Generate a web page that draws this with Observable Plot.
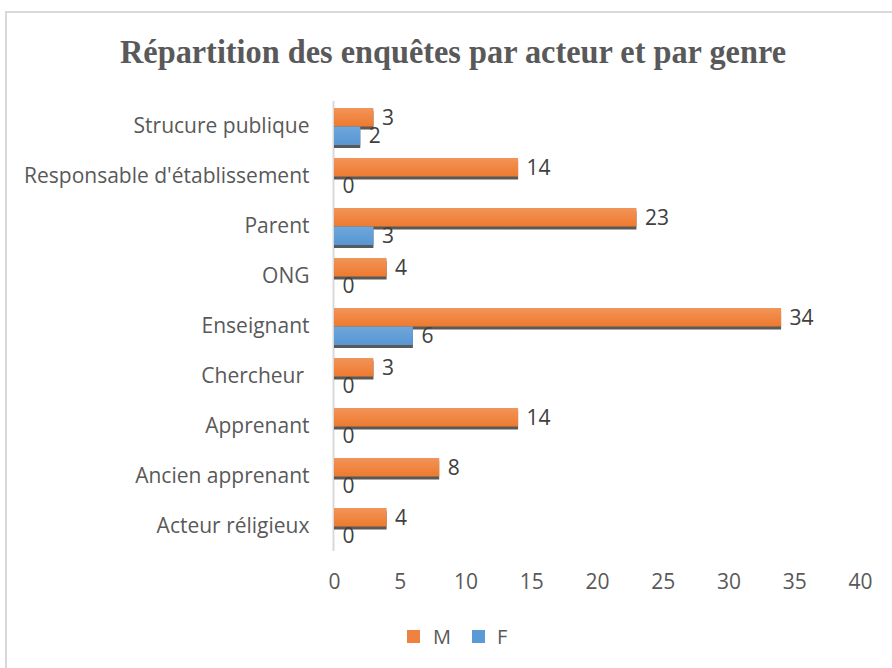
<!DOCTYPE html>
<html>
<head>
<meta charset="utf-8">
<script src="https://cdn.jsdelivr.net/npm/d3@7"></script>
<script src="https://cdn.jsdelivr.net/npm/@observablehq/plot@0.6"></script>
<style>
  html, body { margin: 0; padding: 0; background: #fff; overflow: hidden; width: 892px; height: 668px; }
  #frame { position: absolute; left: 5px; top: 11px; width: 900px; height: 700px; border: 2px solid #d9d9d9; box-sizing: border-box; }
  #title { position: absolute; left: 0; top: 33px; width: 906px; text-align: center; font-family: "Liberation Serif", "Times New Roman", serif; font-weight: bold; font-size: 34px; line-height: normal; color: #595959; white-space: nowrap; transform: scaleX(0.95); transform-origin: 453px 0; }
  #chart { position: absolute; left: 0; top: 80px; }
  #chart svg text { white-space: pre; }
  #legend { position: absolute; top: 623px; left: 0; font-family: "Open Sans", sans-serif; font-size: 20px; color: #595959; }
  .sw { position: absolute; width: 13px; height: 13px; top: 7px; }
  .lb { position: absolute; top: 0; line-height: normal; }
</style>
</head>
<body>
<div id="frame"></div>
<div id="title">Répartition des enquêtes par acteur et par genre</div>
<div id="chart"></div>
<div id="legend">
  <div class="sw" style="left:407px; background:#EF8240;"></div>
  <div class="lb" style="left:433px;">M</div>
  <div class="sw" style="left:472px; background:#5B9BD5;"></div>
  <div class="lb" style="left:497px;">F</div>
</div>
<script>
const categories = ["Strucure publique", "Responsable d'établissement", "Parent", "ONG", "Enseignant", "Chercheur ", "Apprenant", "Ancien apprenant", "Acteur réligieux"];
const valuesM = [3, 14, 23, 4, 34, 3, 14, 8, 4];
const valuesF = [2, 0, 3, 0, 6, 0, 0, 0, 0];
const xTicks = [0, 5, 10, 15, 20, 25, 30, 35, 40];

const rows = categories.map((c, i) => ({cat: c, M: valuesM[i], F: valuesF[i]}));

const mInset = {insetTop: 7, insetBottom: 24.5};
const fInset = {insetTop: 25.5, insetBottom: 6};

const chart = Plot.plot({
  width: 892,
  height: 517,
  marginLeft: 334,
  marginRight: 32,
  marginTop: 21,
  marginBottom: 46,
  style: {fontFamily: "Open Sans, sans-serif", fontSize: "21px", color: "#595959", background: "transparent"},
  x: {domain: [0, 40]},
  y: {domain: categories, padding: 0},
  marks: [
    Plot.ruleX([0], {stroke: "#d9d9d9", strokeWidth: 2, dx: -1}),
    Plot.barX(rows, {y: "cat", x: "M", ...mInset, fill: "#595959", dy: 3}),
    Plot.barX(rows, {y: "cat", x: "F", ...fInset, fill: "#595959", dy: 3}),
    Plot.barX(rows, {y: "cat", x: "M", ...mInset, fill: "url(#gradM)"}),
    Plot.barX(rows, {y: "cat", x: "F", ...fInset, fill: "url(#gradF)"}),
    Plot.text(rows, {y: "cat", x: "M", text: d => String(d.M), dx: 8, dy: -8, textAnchor: "start", fill: "#404040", fontSize: 21}),
    Plot.text(rows, {y: "cat", x: "F", text: d => String(d.F), dx: 8, dy: 10, textAnchor: "start", fill: "#404040", fontSize: 21}),
    Plot.axisX({ticks: xTicks, tickSize: 0, tickPadding: 23, tickFormat: d => String(d), label: null}),
    Plot.axisY({tickSize: 0, tickPadding: 25, label: null})
  ]
});

const ns = "http://www.w3.org/2000/svg";
const defs = document.createElementNS(ns, "defs");
function grad(id, top, bottom) {
  const g = document.createElementNS(ns, "linearGradient");
  g.setAttribute("id", id);
  g.setAttribute("x1", "0"); g.setAttribute("y1", "0");
  g.setAttribute("x2", "0"); g.setAttribute("y2", "1");
  [[0, top], [1, bottom]].forEach(([o, c]) => {
    const s = document.createElementNS(ns, "stop");
    s.setAttribute("offset", o);
    s.setAttribute("stop-color", c);
    g.appendChild(s);
  });
  defs.appendChild(g);
}
grad("gradM", "#F29459", "#EE7A2E");
grad("gradF", "#6EA7DC", "#5896D2");
chart.insertBefore(defs, chart.firstChild);

document.getElementById("chart").appendChild(chart);
</script>
</body>
</html>
